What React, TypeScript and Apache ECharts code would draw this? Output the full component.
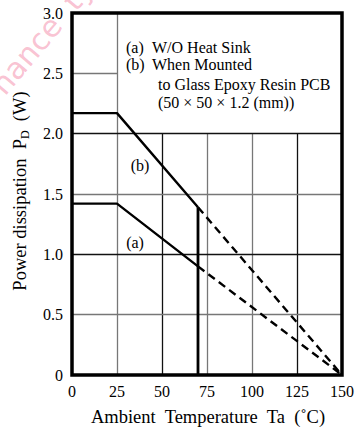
import React, { useEffect, useRef } from "react";
import * as echarts from "echarts";

// ---- data ----
const xTicks = [0, 25, 50, 75, 100, 125, 150];
const yTicks = [0, 0.5, 1.0, 1.5, 2.0, 2.5, 3.0];
// curve (a): W/O heat sink
const curveASolid = [[0, 1.42], [25, 1.42], [70, 0.9]];
const curveADashed = [[70, 0.9], [150, 0]];
// curve (b): mounted on glass epoxy PCB
const curveBSolid = [[0, 2.17], [25, 2.17], [70, 1.39]];
const curveBDashed = [[70, 1.39], [150, 0]];
// vertical limit at 70 °C
const limitLine = [[70, 0], [70, 1.39]];
// grid lines darker than others
const darkX = [50, 125];
const darkY = [1.0, 2.0];
// legend box corner (grid omitted inside)
const legendBoxX = 25;
const legendBoxY = 2.0;
const legendKeys = ["(a)", "(b)"];
const legendLines = [
  "W/O Heat Sink",
  "When Mounted",
  "to Glass Epoxy Resin PCB",
  "(50 × 50 × 1.2 (mm))",
];
const legendRowY = [47, 64.5, 84, 102.5];

const FONT = "Liberation Serif";

export default function App() {
  const ref = useRef<HTMLDivElement>(null);
  useEffect(() => {
    if (!ref.current) return;
    const chart = echarts.init(ref.current, undefined, { renderer: "svg" });

    const grid: any[] = [];
    const dark = "#111";
    const light = "#777";
    xTicks.forEach((x) => {
      if (x <= 0 || x >= 150) return;
      const top = x <= legendBoxX ? 3.0 : legendBoxY;
      grid.push([
        { coord: [x, 0], lineStyle: { color: darkX.includes(x) ? dark : light } },
        { coord: [x, top] },
      ]);
    });
    yTicks.forEach((y) => {
      if (y <= 0 || y >= 3.0) return;
      const right = y > legendBoxY ? legendBoxX : 150;
      grid.push([
        { coord: [0, y], lineStyle: { color: darkY.includes(y) ? dark : light } },
        { coord: [right, y] },
      ]);
    });

    const lineBase = { type: "line", symbol: "none", silent: true, z: 5 };
    const txt = (text: string, x: number, y: number, size = 16, align = "center") => ({
      type: "text",
      x,
      y,
      z: 20,
      style: {
        text,
        fontFamily: FONT,
        fontSize: size,
        fill: "#000",
        textAlign: align,
        textVerticalAlign: "middle",
      },
    });

    chart.setOption({
      animation: false,
      backgroundColor: "#fff",
      textStyle: { fontFamily: FONT },
      grid: {
        left: 72,
        top: 13,
        width: 272,
        height: 362,
        show: true,
        borderColor: "#000",
        borderWidth: 3.5,
        z: 10,
      },
      xAxis: {
        type: "value",
        min: 0,
        max: 150,
        interval: 25,
        axisLine: { show: false },
        axisTick: { show: false },
        splitLine: { show: false },
        axisLabel: { fontFamily: FONT, fontSize: 16, color: "#000", margin: 8 },
      },
      yAxis: {
        type: "value",
        min: 0,
        max: 3,
        interval: 0.5,
        axisLine: { show: false },
        axisTick: { show: false },
        splitLine: { show: false },
        axisLabel: {
          fontFamily: FONT,
          fontSize: 16,
          color: "#000",
          margin: 9,
          formatter: (v: number) => (v === 0 ? "0" : v.toFixed(1)),
        },
      },
      series: [
        {
          type: "line",
          data: [],
          silent: true,
          markLine: {
            silent: true,
            symbol: "none",
            label: { show: false },
            lineStyle: { type: "solid", width: 1.3 },
            data: grid,
          },
        },
        { ...lineBase, data: curveASolid, lineStyle: { color: "#000", width: 2.4 } },
        { ...lineBase, data: curveADashed, lineStyle: { color: "#000", width: 2.4, type: [8, 5] } },
        { ...lineBase, data: curveBSolid, lineStyle: { color: "#000", width: 2.4 } },
        { ...lineBase, data: curveBDashed, lineStyle: { color: "#000", width: 2.4, type: [8, 5] } },
        { ...lineBase, data: limitLine, lineStyle: { color: "#000", width: 2.8 } },
      ],
      graphic: [
        {
          type: "text",
          x: -3,
          y: 90,
          rotation: 0.87,
          z: 0,
          silent: true,
          style: {
            text: "nance  ty",
            fontFamily: "DejaVu Sans",
            fontSize: 30,
            fill: "rgba(240,100,140,0.4)",
            textAlign: "left",
            textVerticalAlign: "middle",
          },
        },
        ...legendKeys.map((t, i) => txt(t, 126, legendRowY[i], 16, "left")),
        ...legendLines.map((t, i) => txt(t, i < 2 ? 152 : 158, legendRowY[i], 16, "left")),
        txt("(b)", 140, 165),
        txt("(a)", 135, 242),
        txt("Ambient  Temperature  Ta  (˚C)", 208, 417, 18.5),
        {
          type: "text",
          x: 20,
          y: 191,
          rotation: Math.PI / 2,
          z: 20,
          style: {
            text: "{m|Power dissipation  P}{s|D}{m|  (W)}",
            fontFamily: FONT,
            textAlign: "center",
            textVerticalAlign: "middle",
            rich: {
              m: { fontFamily: FONT, fontSize: 18.5, color: "#000", lineHeight: 22, verticalAlign: "middle" },
              s: { fontFamily: FONT, fontSize: 12, color: "#000", lineHeight: 22, verticalAlign: "bottom" },
            },
          },
        },
      ],
    });
    return () => chart.dispose();
  }, []);
  return (
    <div
      ref={ref}
      style={{ position: "absolute", left: 0, top: 0, width: 357, height: 430, background: "#fff" }}
    />
  );
}
